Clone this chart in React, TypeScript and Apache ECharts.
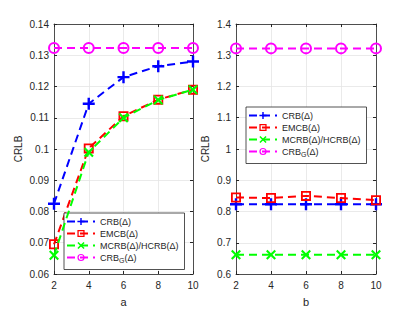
import React, { useEffect, useRef } from "react";
import * as echarts from "echarts";

const xValues = [2, 4, 6, 8, 10];
const seriesNames = ["CRB(Δ)", "EMCB(Δ)", "MCRB(Δ)/HCRB(Δ)", "CRB_G(Δ)"];
const leftCRB = [0.0825, 0.1145, 0.123, 0.1265, 0.128];
const leftEMCB = [0.0695, 0.1002, 0.1105, 0.1158, 0.119];
const leftMCRB = [0.066, 0.099, 0.110, 0.1157, 0.119];
const leftCRBG = [0.1323, 0.1323, 0.1323, 0.1323, 0.1323];
const rightCRB = [0.823, 0.823, 0.823, 0.823, 0.823];
const rightEMCB = [0.845, 0.843, 0.85, 0.843, 0.836];
const rightMCRB = [0.662, 0.662, 0.662, 0.662, 0.662];
const rightCRBG = [1.322, 1.322, 1.322, 1.322, 1.322];

const COLORS = ["#0000ff", "#ff0000", "#00ff00", "#ff00ff"];
const PLUS = "path://M4 0H6V4H10V6H6V10H4V6H0V4H4Z";
const SQUARE = "path://M0 0H10V10H0Z M1.8 1.8V8.2H8.2V1.8Z";
const CROSS = "path://M1.5 0L5 3.5L8.5 0L10 1.5L6.5 5L10 8.5L8.5 10L5 6.5L1.5 10L0 8.5L3.5 5L0 1.5Z";
const RING = "path://M0 5A5 5 0 1 0 10 5A5 5 0 1 0 0 5Z M1.7 5A3.3 3.3 0 1 1 8.3 5A3.3 3.3 0 1 1 1.7 5Z";
const SYMBOLS = [PLUS, SQUARE, CROSS, RING];
const SIZES = [12, 10, 10, 12];

const AX = "#262626";

export default function App() {
  const ref = useRef<HTMLDivElement>(null);
  useEffect(() => {
    const chart = echarts.init(ref.current!, null, { renderer: "svg" });
    const grids = [
      { left: 54, top: 24, width: 139, height: 253 },
      { left: 236, top: 24, width: 140, height: 253 },
    ];
    const xAxis: any[] = [];
    const yAxis: any[] = [];
    const yRanges = [
      [0.06, 0.14, 0.01],
      [0.6, 1.4, 0.1],
    ];
    const names = ["a", "b"];
    for (let g = 0; g < 2; g++) {
      xAxis.push({
        type: "value",
        gridIndex: g,
        min: 2,
        max: 10,
        interval: 2,
        name: names[g],
        nameLocation: "middle",
        nameGap: 22,
        nameTextStyle: { color: AX, fontSize: 11, fontFamily: "Liberation Sans" },
        axisLine: { show: true, onZero: false, lineStyle: { color: AX, width: 0.8 } },
        axisTick: { show: true, inside: true, length: 3, lineStyle: { color: AX } },
        axisLabel: { color: AX, fontSize: 10, fontFamily: "Liberation Sans", margin: 6 },
        splitLine: { show: true, lineStyle: { color: "#e5e5e5", width: 0.8 } },
      });
      xAxis.push({
        type: "value",
        gridIndex: g,
        position: "top",
        min: 2,
        max: 10,
        interval: 2,
        axisLine: { show: true, onZero: false, lineStyle: { color: AX, width: 0.8 } },
        axisTick: { show: true, inside: true, length: 3, lineStyle: { color: AX } },
        axisLabel: { show: false },
        splitLine: { show: false },
      });
      const [mn, mx, iv] = yRanges[g];
      yAxis.push({
        type: "value",
        gridIndex: g,
        min: mn,
        max: mx,
        interval: iv,
        name: "CRLB",
        nameLocation: "middle",
        nameGap: g === 0 ? 31 : 26,
        nameTextStyle: { color: AX, fontSize: 10, fontFamily: "Liberation Sans" },
        axisLine: { show: true, onZero: false, lineStyle: { color: AX, width: 0.8 } },
        axisTick: { show: true, inside: true, length: 3, lineStyle: { color: AX } },
        axisLabel: {
          color: AX,
          fontSize: 10,
          fontFamily: "Liberation Sans",
          margin: 5,
          formatter: (v: number) => String(parseFloat(v.toFixed(3))),
        },
        splitLine: { show: true, lineStyle: { color: "#e5e5e5", width: 0.8 } },
      });
      yAxis.push({
        type: "value",
        gridIndex: g,
        position: "right",
        min: mn,
        max: mx,
        interval: iv,
        axisLine: { show: true, onZero: false, lineStyle: { color: AX, width: 0.8 } },
        axisTick: { show: true, inside: true, length: 3, lineStyle: { color: AX } },
        axisLabel: { show: false },
        splitLine: { show: false },
      });
    }
    const data = [
      [leftCRB, leftEMCB, leftMCRB, leftCRBG],
      [rightCRB, rightEMCB, rightMCRB, rightCRBG],
    ];
    const series: any[] = [];
    for (let g = 0; g < 2; g++) {
      for (let i = 0; i < 4; i++) {
        series.push({
          type: "line",
          name: seriesNames[i],
          xAxisIndex: g * 2,
          yAxisIndex: g * 2,
          data: xValues.map((x, k) => [x, data[g][i][k]]),
          symbol: SYMBOLS[i],
          symbolSize: SIZES[i],
          showAllSymbol: true,
          lineStyle: { color: COLORS[i], width: 2, type: [8, 5] },
          itemStyle: { color: COLORS[i] },
          z: 2 + i,
        });
      }
    }
    const rich = {
      a: { color: AX, fontSize: 9, fontFamily: "Liberation Sans" },
      s: { color: AX, fontSize: 7, fontFamily: "Liberation Sans", padding: [5, 0, 0, 0] },
    };
    const legendBase = {
      orient: "vertical",
      data: seriesNames,
      backgroundColor: "#ffffff",
      borderColor: AX,
      borderWidth: 0.8,
      padding: [4, 6, 6, 2],
      itemGap: 3,
      itemWidth: 28,
      itemHeight: 9,
      selectedMode: false,
      textStyle: { color: AX, fontSize: 9, fontFamily: "Liberation Sans", rich },
      formatter: (n: string) =>
        n === "CRB_G(Δ)" ? "{a|CRB}{s|G}{a|(Δ)}" : "{a|" + n + "}",
    };
    chart.setOption({
      animation: false,
      backgroundColor: "#ffffff",
      grid: grids,
      xAxis,
      yAxis,
      series,
      legend: [
        { ...legendBase, left: 64, top: 213 },
        { ...legendBase, left: 246, top: 107 },
      ],
    });
    return () => chart.dispose();
  }, []);
  return (
    <div
      ref={ref}
      style={{ position: "absolute", left: 0, top: 0, width: 415, height: 312 }}
    />
  );
}
